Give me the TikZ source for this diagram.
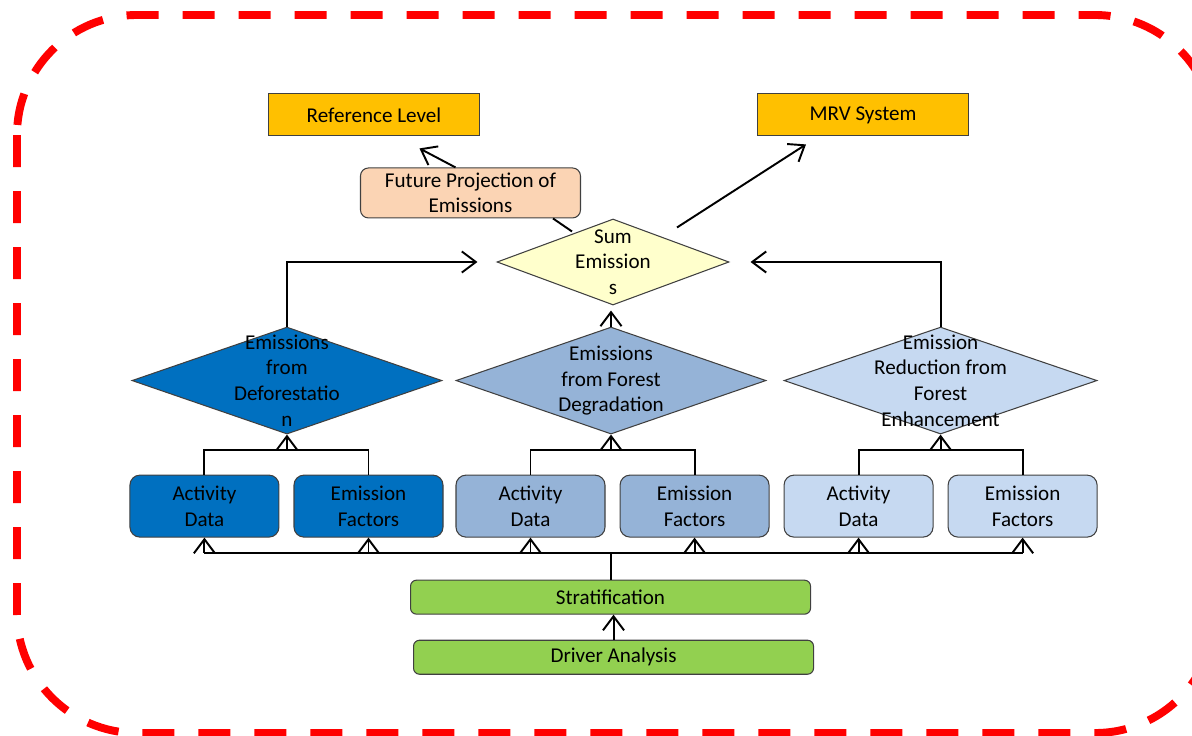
\documentclass[tikz,border=0pt]{standalone}
\usepackage{fontspec}
\setmainfont{Carlito}
\usetikzlibrary{arrows.meta,shapes.geometric,positioning,calc}

\definecolor{gold}{HTML}{FFC000}
\definecolor{peach}{HTML}{FBD4B4}
\definecolor{paleyellow}{HTML}{FFFFCC}
\definecolor{darkblue}{HTML}{0070C0}
\definecolor{midblue}{HTML}{95B3D7}
\definecolor{lightblue}{HTML}{C6D9F1}
\definecolor{leafgreen}{HTML}{92D050}

\begin{document}
\begin{tikzpicture}[
        font=\fontsize{12pt}{14.6pt}\selectfont,
        every node/.style={draw=black!75, line width=0.6pt, align=center, inner sep=1pt},
        every path/.style={line width=1.1pt},
        >={Straight Barb[length=8pt,width=12pt]},
        target/.style={fill=gold, minimum width=4.22cm, minimum height=0.84cm},
        projbox/.style={fill=peach, rounded corners=0.16cm, minimum width=4.4cm, minimum height=1cm},
        sumd/.style={diamond, fill=paleyellow, inner sep=0pt, minimum width=4.64cm, minimum height=1.72cm},
        diam/.style={diamond, inner sep=0pt, minimum width=6.2cm, minimum height=2.14cm},
        plain/.style={draw=none, fill=none},
        datbox/.style={rounded corners=0.2cm, minimum width=2.98cm, minimum height=1.24cm},
        greenbox/.style={fill=leafgreen, rounded corners=0.12cm, minimum width=8cm, minimum height=0.68cm}
    ]
    \useasboundingbox (0,0) rectangle (23.84,-14.72);

    % Frame
    \draw[red, line width=4.5pt, dash pattern=on 0.64cm off 0.48cm, rounded corners=2.4cm]
        (0.34,-0.30) rectangle (24.3,-14.66);

    % Nodes
      \node[sumd] (sum) at (12.26,-5.24) {};
      \node[plain] (sumtxt) at (sum) {Sum\\Emission\\s};

      \node[diam, fill=midblue] (deg)[below=0.42cm of sum, xshift=-0.04cm] {};
      \node[plain] (degtxt) at (deg) {Emissions\\from Forest\\Degradation};
      \node[diam, fill=darkblue] (def)[left=0.26cm of deg] {};
      \node[plain] (deftxt) at (def) {Emissions\\from\\Deforestatio\\n};
      \node[diam, fill=lightblue, minimum width=6.26cm] (enh)[right=0.34cm of deg] {};
      \node[plain] (enhtxt) at (enh) {Emission\\Reduction from\\Forest\\Enhancement};

      \node[datbox, fill=darkblue] (ad1)[below=0.8cm of def, xshift=-1.65cm] {Activity\\Data};
      \node[datbox, fill=darkblue] (ef1)[right=0.28cm of ad1] {Emission\\Factors};
      \node[datbox, fill=midblue] (ad2)[below=0.8cm of deg, xshift=-1.61cm] {Activity\\Data};
      \node[datbox, fill=midblue] (ef2)[right=0.28cm of ad2] {Emission\\Factors};
      \node[datbox, fill=lightblue] (ad3)[below=0.8cm of enh, xshift=-1.64cm] {Activity\\Data};
      \node[datbox, fill=lightblue] (ef3)[right=0.28cm of ad3] {Emission\\Factors};

      \node[greenbox] (strat)[below=0.84cm of ad2.south east, xshift=0.1cm] {Stratification};
      \node[greenbox] (drv)[below=0.5cm of strat, xshift=0.06cm] {Driver Analysis};

      \node[projbox] (proj)[above left=0cm and 0.64cm of sum.north] {Future Projection of\\Emissions};
      \node[target] (ref)[above=0.62cm of proj, xshift=-1.93cm] {Reference Level};
      \node[target] (mrv)[right=5.54cm of ref] {MRV System};

    % Connectors
    \coordinate (bus) at ($(ad1.south)+(0,-0.3)$);
    \draw[->] (drv.north) -- (drv.north |- strat.south);
    \draw (strat.north) -- (strat.north |- bus);
    \draw (ad1 |- bus) -- (ef3 |- bus);
    \foreach \b in {ad1,ef1,ad2,ef2,ad3,ef3}
        \draw[->] (\b |- bus) -- (\b.south);

    \foreach \d/\a/\e in {def/ad1/ef1, deg/ad2/ef2, enh/ad3/ef3} {
        \coordinate (j\d) at ($(\a.north)+(0,0.5)$);
        \draw (\a.north) -- (j\d) -| (\e.north);
        \draw[->] (j\d -| \d.south) -- (\d.south);
    }

    \draw[->, shorten >=0.38cm] (def.north) |- (sum.west);
    \draw[->, shorten >=0.42cm] (enh.north) |- (sum.east);
    \draw[->] (deg.north) -- ([yshift=-0.1cm]deg.north |- sum.south);

    \draw[->] ([shift={(1.28,-0.18)}]sum.north) -- ([shift={(0.98,-0.16)}]mrv.south west);
    \draw ([shift={(-0.82,-0.26)}]sum.north) -- ([xshift=-0.56cm]proj.south east);
    \draw[->] ([xshift=-0.3cm]proj.north) -- ([shift={(0.91,-0.24)}]ref.south);

    \end{tikzpicture}
\end{document}
